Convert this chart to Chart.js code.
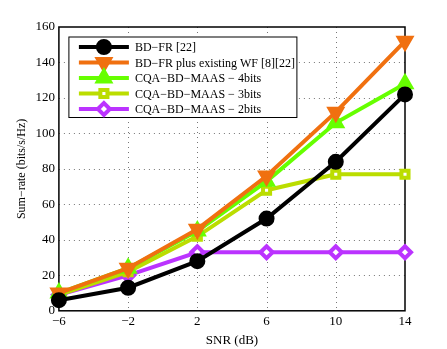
<!DOCTYPE html>
<html>
<head>
<meta charset="utf-8">
<script src="https://cdn.jsdelivr.net/npm/chart.js@4"></script>
<style>
  html, body { margin: 0; padding: 0; background: #fff; }
  #wrap { width: 447px; height: 349px; }
</style>
</head>
<body>
<div id="wrap"><canvas id="sumRateChart"></canvas></div>
<script>
const snr = [-6, -2, 2, 6, 10, 14];
const xTicks = [-6, -2, 2, 6, 10, 14];
const yTicks = [0, 20, 40, 60, 80, 100, 120, 140, 160];
const seriesNames = [
  "BD\u2212FR [22]",
  "BD\u2212FR plus existing WF [8][22]",
  "CQA\u2212BD\u2212MAAS \u2212 4bits",
  "CQA\u2212BD\u2212MAAS \u2212 3bits",
  "CQA\u2212BD\u2212MAAS \u2212 2bits",
];
const bdFr = [6, 13, 28, 52, 84, 122];
const bdFrWf = [10, 24, 46, 76, 112, 152];
const cqa4 = [10, 24, 45, 73, 106, 128];
const cqa3 = [9, 22, 42, 68, 77, 77];
const cqa2 = [9, 20, 33, 33, 33, 33];

const serif = "'Liberation Serif', 'Times New Roman', serif";

const styles = [
  { color: "#000000", point: "circle", radius: 6, fill: "#000000", rot: 0 },
  { color: "#F07010", point: "triangle", radius: 7, fill: "#F07010", rot: 180 },
  { color: "#66FF00", point: "triangle", radius: 7, fill: "#66FF00", rot: 0 },
  { color: "#BBDD00", point: "rect", radius: 5, fill: "#ffffff", rot: 0 },
  { color: "#BB33FF", point: "rectRot", radius: 6, fill: "#ffffff", rot: 0 },
];
const values = [bdFr, bdFrWf, cqa4, cqa3, cqa2];

const datasets = values.map((vals, i) => ({
  label: seriesNames[i],
  data: snr.map((x, j) => ({ x: x, y: vals[j] })),
  borderColor: styles[i].color,
  backgroundColor: styles[i].fill,
  pointBackgroundColor: styles[i].fill,
  pointBorderColor: styles[i].color,
  pointBorderWidth: 4,
  pointStyle: styles[i].point,
  pointRadius: styles[i].radius,
  pointRotation: styles[i].rot,
  borderWidth: 4,
  tension: 0,
  clip: false,
  order: i, // black on top
}));

// dotted grid + frame around the plot area (MATLAB box)
const boxPlugin = {
  id: "box",
  beforeDatasetsDraw(chart) {
    const { ctx, chartArea: a, scales } = chart;
    ctx.save();
    ctx.strokeStyle = "#777";
    ctx.lineWidth = 1;
    ctx.setLineDash([1, 4]);
    ctx.beginPath();
    xTicks.slice(1, -1).forEach((v) => {
      const px = Math.round(scales.x.getPixelForValue(v)) + 0.5;
      ctx.moveTo(px, a.top);
      ctx.lineTo(px, a.bottom);
    });
    yTicks.slice(1, -1).forEach((v) => {
      const py = Math.round(scales.y.getPixelForValue(v)) + 0.5;
      ctx.moveTo(a.left, py);
      ctx.lineTo(a.right, py);
    });
    ctx.stroke();
    ctx.setLineDash([]);
    ctx.strokeStyle = "#000";
    ctx.lineWidth = 1.5;
    ctx.strokeRect(a.left, a.top, a.right - a.left, a.bottom - a.top);
    ctx.restore();
  },
};

// legend drawn inside the axes, line + marker like matlab
const legendPlugin = {
  id: "insideLegend",
  afterDatasetsDraw(chart) {
    const { ctx, chartArea: a } = chart;
    const x0 = a.left + 10, y0 = a.top + 10;
    const w = 228, rowH = 15.5, h = rowH * datasets.length + 3;
    ctx.save();
    ctx.fillStyle = "#fff";
    ctx.fillRect(x0, y0, w, h);
    ctx.strokeStyle = "#000";
    ctx.lineWidth = 1;
    ctx.strokeRect(x0, y0, w, h);
    ctx.font = "12px " + serif;
    ctx.textBaseline = "middle";
    chart.data.datasets.forEach((d, i) => {
      const cy = y0 + 10 + i * rowH;
      ctx.strokeStyle = d.borderColor;
      ctx.lineWidth = 4;
      ctx.beginPath();
      ctx.moveTo(x0 + 10, cy);
      ctx.lineTo(x0 + 60, cy);
      ctx.stroke();
      ctx.fillStyle = d.pointBackgroundColor;
      ctx.strokeStyle = d.pointBorderColor;
      ctx.lineWidth = d.pointBorderWidth;
      Chart.helpers.drawPoint(ctx, {
        pointStyle: d.pointStyle,
        radius: d.pointRadius,
        rotation: d.pointRotation,
        borderWidth: d.pointBorderWidth,
      }, x0 + 35, cy);
      ctx.fillStyle = "#000";
      ctx.fillText(d.label, x0 + 66, cy + 1);
    });
    ctx.restore();
  },
};

const ctx = document.getElementById("sumRateChart").getContext("2d");
const myChart = new Chart(ctx, {
  type: "line",
  data: { datasets: datasets },
  plugins: [boxPlugin, legendPlugin],
  options: {
    responsive: true,
    maintainAspectRatio: false,
    animation: false,
    layout: { padding: { top: 27, right: 42, left: 11, bottom: 0 } },
    scales: {
      x: {
        type: "linear",
        min: -6,
        max: 14,
        afterBuildTicks: (axis) => { axis.ticks = xTicks.map((v) => ({ value: v })); },
        ticks: {
          color: "#000",
          font: { family: serif, size: 13 },
          padding: 3,
          maxRotation: 0,
          callback: (v) => (v < 0 ? "\u2212" + Math.abs(v) : "" + v),
        },
        grid: { display: false, drawTicks: false },
        border: { display: false },
        title: {
          display: true,
          text: "SNR (dB)",
          color: "#000",
          font: { family: serif, size: 13 },
          padding: { top: 0, bottom: 1 },
        },
      },
      y: {
        min: 0,
        max: 160,
        afterBuildTicks: (axis) => { axis.ticks = yTicks.map((v) => ({ value: v })); },
        ticks: {
          color: "#000",
          font: { family: serif, size: 13 },
          padding: 4,
        },
        grid: { display: false, drawTicks: false },
        border: { display: false },
        title: {
          display: true,
          text: "Sum\u2212rate (bits/s/Hz)",
          color: "#000",
          font: { family: serif, size: 12 },
          padding: { bottom: 2 },
        },
      },
    },
    plugins: {
      legend: { display: false },
      tooltip: { enabled: false },
    },
  },
});
</script>
</body>
</html>
